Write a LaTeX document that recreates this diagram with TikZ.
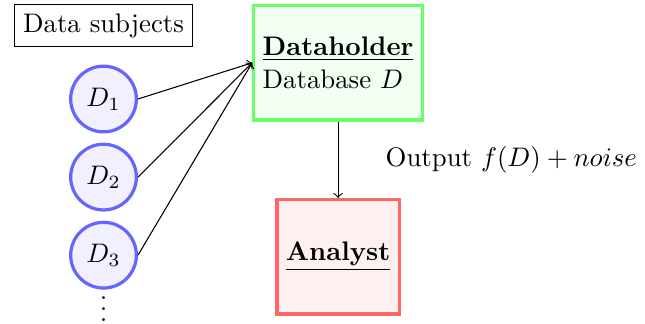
\documentclass[tikz,border=0pt]{standalone}
\usepackage{tikz}
\usetikzlibrary{positioning}
\definecolor{subjblue}{HTML}{6666FF}
\definecolor{subjbg}{HTML}{F0F0FF}
\definecolor{holdgreen}{HTML}{66FF66}
\definecolor{holdbg}{HTML}{F2FFF2}
\definecolor{anared}{HTML}{FF6666}
\definecolor{anabg}{HTML}{FFF0F0}
\tikzset{
  plain/.style  ={draw, inner sep=3.33pt},
  subject/.style={circle, draw=subjblue, fill=subjbg, very thick},
  holder/.style ={draw=holdgreen, fill=holdbg, very thick, align=left,
                  minimum height=1.5cm},
  analyst/.style={draw=anared, fill=anabg, very thick, minimum height=1.5cm},
  flow/.style   ={->},
}
\begin{document}
\begin{tikzpicture}
\useasboundingbox (-1.357,0.334) rectangle (7.097,-3.912);

\node[plain] (subjects) at (0,0) {Data subjects};

% data subjects
\node[subject, below=2.3mm of subjects] (d1) {$D_1$};
\node[subject, below=1.2mm of d1] (d2) {$D_2$};
\node[subject, below=1.2mm of d2] (d3) {$D_3$};
\node[below=-2.4mm of d3] (dots) {$\vdots$};

% curator and analyst
\node[holder, right=7.7mm of subjects.north east, anchor=north west] (holder)
  {\underline{\textbf{Dataholder}}\\Database $D$};
\node[analyst, below=1cm of holder] (analyst) {\underline{\textbf{Analyst}}};

% edges
\foreach \d in {d1,d2,d3}
  \draw[flow] (\d.east) -- (holder.west);
\draw[flow] (holder) -- node[right=5mm] (output) {Output $f(D)+noise$} (analyst);

\end{tikzpicture}
\end{document}
